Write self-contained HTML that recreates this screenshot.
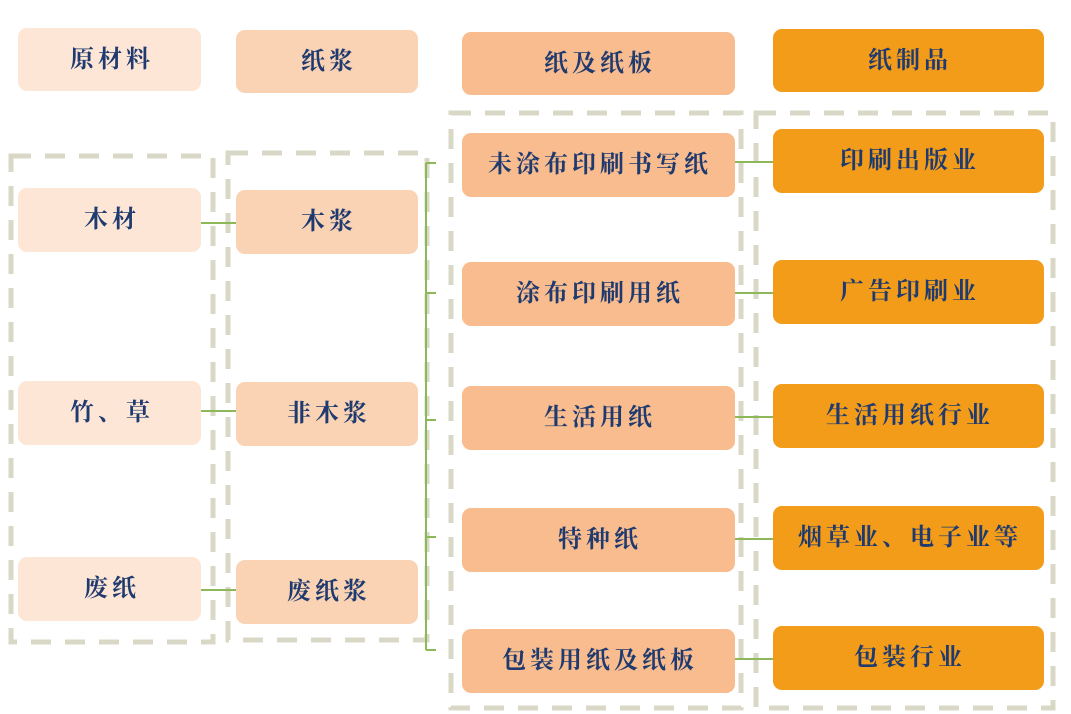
<!DOCTYPE html>
<html><head><meta charset="utf-8"><style>
html,body{margin:0;padding:0;background:#fff;}
svg{display:block}
text{font-family:"Liberation Serif","Noto Serif CJK SC",serif;font-size:24px;fill:#1f3a6e;text-anchor:middle;dominant-baseline:central;font-weight:bold;letter-spacing:4px}
.d{fill:none;stroke:#d9d8c6;stroke-width:5;stroke-dasharray:20 14}
.g{stroke:#8db85a;stroke-width:2;fill:none}
.a{fill:#fde6d6}.b{fill:#fad3b4}.c{fill:#f8bc8e}.e{fill:#f39c1a}
</style></head><body>
<svg width="1071" height="714" viewBox="0 0 1071 714">
<rect class="d" x="11" y="156" width="202" height="486"/>
<rect class="d" x="228" y="153" width="199" height="487"/>
<rect class="d" x="451" y="113" width="290" height="595"/>
<rect class="d" x="756" y="113" width="297" height="595"/>
<line class="g" x1="201" y1="223" x2="236" y2="223"/>
<line class="g" x1="201" y1="411" x2="236" y2="411"/>
<line class="g" x1="201" y1="590" x2="236" y2="590"/>
<line class="g" x1="426" y1="163" x2="426" y2="650"/>
<line class="g" x1="426" y1="163" x2="436" y2="163"/>
<line class="g" x1="426" y1="293" x2="436" y2="293"/>
<line class="g" x1="426" y1="420" x2="436" y2="420"/>
<line class="g" x1="426" y1="537" x2="436" y2="537"/>
<line class="g" x1="426" y1="650" x2="436" y2="650"/>
<line class="g" x1="735" y1="162" x2="773" y2="162"/>
<line class="g" x1="735" y1="293" x2="773" y2="293"/>
<line class="g" x1="735" y1="417" x2="773" y2="417"/>
<line class="g" x1="735" y1="539" x2="773" y2="539"/>
<line class="g" x1="735" y1="659" x2="773" y2="659"/>
<rect class="a" x="18" y="28" width="183" height="63" rx="9"/><text x="112" y="60">原材料</text>
<rect class="b" x="236" y="30" width="182" height="63" rx="9"/><text x="329" y="62">纸浆</text>
<rect class="c" x="462" y="32" width="273" height="63" rx="9"/><text x="600" y="64">纸及纸板</text>
<rect class="e" x="773" y="29" width="271" height="63" rx="9"/><text x="910" y="61">纸制品</text>
<rect class="a" x="18" y="188" width="183" height="64" rx="9"/><text x="112" y="220">木材</text>
<rect class="a" x="18" y="381" width="183" height="64" rx="9"/><text x="112" y="413">竹、草</text>
<rect class="a" x="18" y="557" width="183" height="64" rx="9"/><text x="112" y="589">废纸</text>
<rect class="b" x="236" y="190" width="182" height="64" rx="9"/><text x="329" y="222">木浆</text>
<rect class="b" x="236" y="382" width="182" height="64" rx="9"/><text x="329" y="414">非木浆</text>
<rect class="b" x="236" y="560" width="182" height="64" rx="9"/><text x="329" y="592">废纸浆</text>
<rect class="c" x="462" y="133" width="273" height="64" rx="9"/><text x="600" y="165">未涂布印刷书写纸</text>
<rect class="c" x="462" y="262" width="273" height="64" rx="9"/><text x="600" y="294">涂布印刷用纸</text>
<rect class="c" x="462" y="386" width="273" height="64" rx="9"/><text x="600" y="418">生活用纸</text>
<rect class="c" x="462" y="508" width="273" height="64" rx="9"/><text x="600" y="540">特种纸</text>
<rect class="c" x="462" y="629" width="273" height="64" rx="9"/><text x="600" y="661">包装用纸及纸板</text>
<rect class="e" x="773" y="129" width="271" height="64" rx="9"/><text x="910" y="161">印刷出版业</text>
<rect class="e" x="773" y="260" width="271" height="64" rx="9"/><text x="910" y="292">广告印刷业</text>
<rect class="e" x="773" y="384" width="271" height="64" rx="9"/><text x="910" y="416">生活用纸行业</text>
<rect class="e" x="773" y="506" width="271" height="64" rx="9"/><text x="910" y="538">烟草业、电子业等</text>
<rect class="e" x="773" y="626" width="271" height="64" rx="9"/><text x="910" y="658">包装行业</text>
</svg>
</body></html>
